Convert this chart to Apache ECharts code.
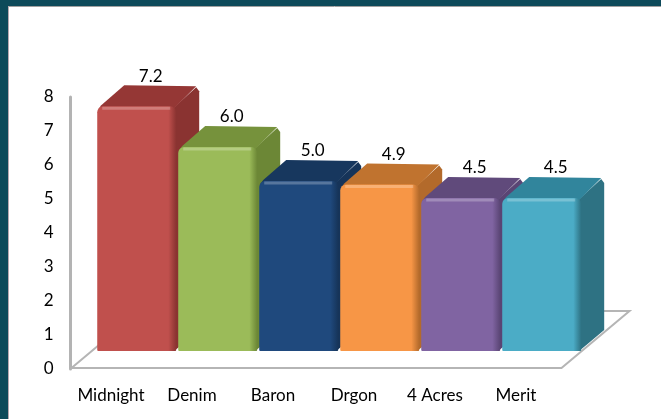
<!DOCTYPE html>
<html>
<head>
<meta charset="utf-8">
<script src="https://cdn.jsdelivr.net/npm/echarts@6/dist/echarts.min.js"></script>
<style>
  html, body { margin: 0; padding: 0; background: #ffffff; }
  #chart { width: 661px; height: 419px; }
</style>
</head>
<body>
<div id="chart"></div>
<script>
// data
const categories = ['Midnight', 'Denim', 'Baron', 'Drgon', '4 Acres', 'Merit'];
const values = [7.2, 6.0, 5.0, 4.9, 4.5, 4.5];
const yTicks = [0, 1, 2, 3, 4, 5, 6, 7, 8];

// front / top / side colours for each bar
const frontColors = ['#c0504d', '#9bbb59', '#1f497d', '#f79646', '#8064a2', '#4bacc6'];
const topColors = ['#953735', '#76923c', '#17375e', '#c0732f', '#604a7b', '#31859c'];
const sideColors = ['#8a3331', '#6c8736', '#163459', '#b36a2b', '#5a4574', '#2e7283'];

const FONT = 'Lato, "Open Sans", sans-serif';
const LIFT = 18;           // front face sits above the axis baseline
const DEPTH_X = 23, DEPTH_Y = -21;
const FLOOR_X = 68, FLOOR_Y = -57;

const chart = echarts.init(document.getElementById('chart'));

const renderBar = (params, api) => {
    const i = api.value(0);
    const v = api.value(1);
    const top = api.coord([i, v]);
    const base = api.coord([i, 0]);
    const band = api.size([1, 0])[0];
    const x0 = top[0] - band * 0.17;
    const x1 = x0 + band * 0.975;
    const yT = top[1] - LIFT;
    const yB = base[1] - LIFT;
    const children = [];

    // floor of the 3D plot, drawn once behind everything
    if (params.dataIndex === 0) {
        const cs = params.coordSys;
        const fy = cs.y + cs.height - 1;
        const fl = [cs.x + 1, fy];
        const fr = [cs.x + cs.width + 5, fy];
        children.push({
            type: 'polygon',
            shape: { points: [fl, [fl[0] + FLOOR_X, fl[1] + FLOOR_Y], [fr[0] + FLOOR_X, fr[1] + FLOOR_Y], fr] },
            style: { fill: 'none', stroke: '#b5b5b5', lineWidth: 2 }
        });
    }

    children.push({
        type: 'polygon',
        shape: { points: [[x1 - 3, yT + 2], [x1 + DEPTH_X - 3, yT + DEPTH_Y + 2], [x1 + DEPTH_X, yT + DEPTH_Y + 6], [x1 + DEPTH_X, yB + DEPTH_Y], [x1 - 2, yB]] },
        style: { fill: sideColors[i] }
    });
    children.push({
        type: 'polygon',
        shape: { points: [[x0 + 1, yT + 3], [x1 - 2, yT + 2], [x1 + DEPTH_X - 3, yT + DEPTH_Y + 1], [x0 + DEPTH_X + 4, yT + DEPTH_Y], [x0 + 4, yT - 1]] },
        style: { fill: topColors[i] }
    });
    children.push({
        type: 'rect',
        shape: { x: x0, y: yT, width: x1 - x0, height: yB - yT, r: [6, 6, 1, 1] },
        style: {
            fill: new echarts.graphic.LinearGradient(0, 0, 1, 0, [
                { offset: 0, color: frontColors[i] },
                { offset: 0.9, color: frontColors[i] },
                { offset: 1, color: sideColors[i] }
            ])
        }
    });
    // bevel highlight along the top edge of the front face
    children.push({
        type: 'line',
        shape: { x1: x0 + 5, y1: yT + 2, x2: x1 - 6, y2: yT + 2 },
        style: { stroke: 'rgba(255,255,255,0.25)', lineWidth: 3 }
    });
    children.push({
        type: 'text',
        style: {
            x: (x0 + x1) / 2 + 14,
            y: yT + DEPTH_Y - 9,
            text: v.toFixed(1),
            align: 'center',
            verticalAlign: 'middle',
            fill: '#000',
            font: '17px ' + FONT
        }
    });
    return { type: 'group', children: children };
};

chart.setOption({
    backgroundColor: '#ffffff',
    animation: false,
    graphic: [
        { type: 'rect', shape: { x: 0, y: 0, width: 661, height: 6 }, style: { fill: '#0d4a5a' }, z: 100 },
        { type: 'rect', shape: { x: 0, y: 0, width: 8, height: 419 }, style: { fill: '#0d4a5a' }, z: 100 },
        { type: 'line', shape: { x1: 8, y1: 6.5, x2: 661, y2: 6.5 }, style: { stroke: '#a0a0a0', lineWidth: 1 }, z: 100 },
        { type: 'line', shape: { x1: 8.5, y1: 6, x2: 8.5, y2: 419 }, style: { stroke: '#b8a8b0', lineWidth: 1 }, z: 100 }
    ],
    grid: { left: 70.5, right: 104.5, top: 97, bottom: 50 },
    xAxis: {
        type: 'category',
        data: categories,
        axisLine: { show: false },
        axisTick: { show: false },
        axisLabel: { interval: 0, color: '#000', fontFamily: FONT, fontSize: 17, margin: 18 }
    },
    yAxis: {
        type: 'value',
        min: yTicks[0],
        max: yTicks[yTicks.length - 1],
        interval: 1,
        splitLine: { show: false },
        axisTick: { show: false },
        axisLine: { show: true, lineStyle: { color: '#b3b3b3', width: 3 } },
        axisLabel: { color: '#000', fontFamily: FONT, fontSize: 17, margin: 17 }
    },
    series: [{
        type: 'custom',
        renderItem: renderBar,
        clip: false,
        data: values.map((v, i) => [i, v])
    }]
});
</script>
</body>
</html>
